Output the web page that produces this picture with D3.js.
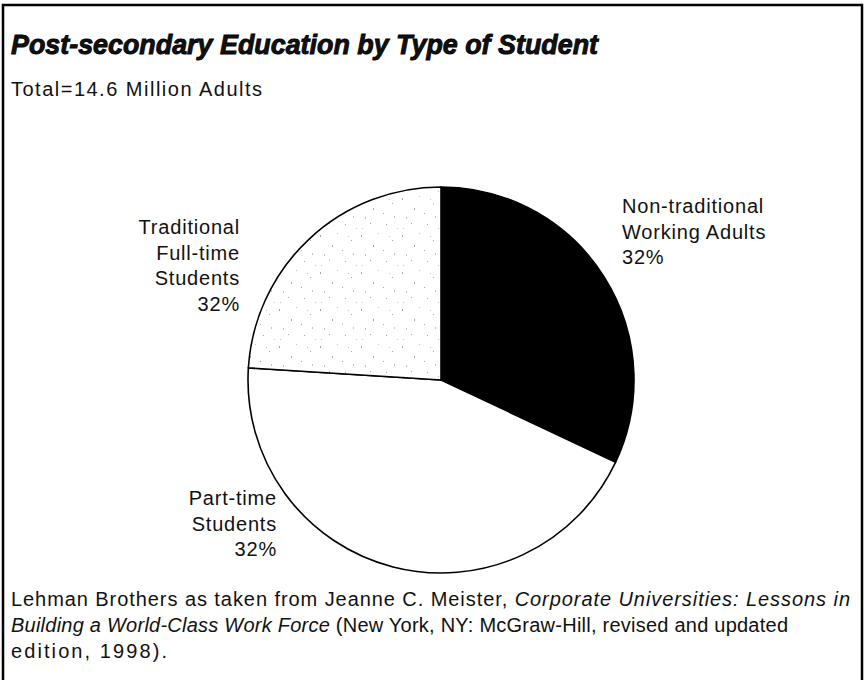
<!DOCTYPE html>
<html>
<head>
<meta charset="utf-8">
<script src="https://cdn.jsdelivr.net/npm/d3@7"></script>
<style>
  body { margin: 0; background: #fff; }
  svg { display: block; }
  text { font-family: "Liberation Sans", Arial, sans-serif; fill: #111; }
</style>
</head>
<body>
<div id="chart"></div>
<script>
// data (slice sizes estimated from the angles)
var categories = ["Non-traditional Working Adults", "Part-time Students", "Traditional Full-time Students"];
var values = [32, 44, 24];
var labelLines = [["Non-traditional", "Working Adults"], ["Part-time", "Students"], ["Traditional", "Full-time", "Students"]];
var percentLabels = ["32%", "32%", "32%"];

var width = 866, height = 680;
var center = { x: 441, y: 380 }, radius = 193;

var svg = d3.select("#chart")
    .append("svg")
    .attr("width", width)
    .attr("height", height);

// speckled fill for the light slice
var defs = svg.append("defs");
var pat = defs.append("pattern")
    .attr("id", "speckle")
    .attr("patternUnits", "userSpaceOnUse")
    .attr("width", 41)
    .attr("height", 37);
pat.append("rect").attr("width", 41).attr("height", 37).attr("fill", "#fff");
[[2, 3], [19, 1], [33, 8], [6, 22], [27, 29], [38, 33], [14, 13], [3, 33], [24, 18], [35, 21], [11, 28], [30, 4]].forEach(function (p, i) {
    pat.append("rect").attr("x", p[0]).attr("y", p[1])
        .attr("width", 1).attr("height", i % 3 == 0 ? 2 : 1)
        .attr("fill", i % 2 ? "#c4c4c4" : "#a8a8a8");
});

// frame
svg.append("rect")
    .attr("x", 3).attr("y", 5)
    .attr("width", 859).attr("height", 720)
    .attr("fill", "none")
    .attr("stroke", "#000")
    .attr("stroke-width", 2.5);

// title + subtitle
svg.append("text")
    .attr("x", 11).attr("y", 54)
    .attr("font-size", 28)
    .attr("font-weight", 900)
    .attr("font-style", "italic")
    .attr("stroke", "#000")
    .attr("stroke-width", 0.9)
    .attr("textLength", 587)
    .attr("lengthAdjust", "spacingAndGlyphs")
    .text("Post-secondary Education by Type of Student");

svg.append("text")
    .attr("x", 11).attr("y", 96)
    .attr("font-size", 20)
    .attr("textLength", 251)
    .attr("lengthAdjust", "spacing")
    .text("Total=14.6 Million Adults");

// pie
var pie = d3.pie().sort(null).value(function (d) { return d; });
var arc = d3.arc().innerRadius(0).outerRadius(radius);
var fills = ["#000", "#fff", "url(#speckle)"];

var g = svg.append("g")
    .attr("transform", "translate(" + center.x + "," + center.y + ")");

g.selectAll("path")
    .data(pie(values))
    .enter()
    .append("path")
    .attr("d", arc)
    .attr("fill", function (d, i) { return fills[i]; })
    .attr("stroke", "#000")
    .attr("stroke-width", 1.6)
    .attr("stroke-linejoin", "round");

// labels
var labelPos = [
    { x: 622, y: 213, anchor: "start" },
    { x: 277, y: 505, anchor: "end" },
    { x: 240, y: 234, anchor: "end" }
];
var lineStep = 25.7;

labelPos.forEach(function (p, i) {
    var lines = labelLines[i].concat([percentLabels[i]]);
    var t = svg.append("text")
        .attr("font-size", 20)
        .attr("letter-spacing", 0.8)
        .attr("text-anchor", p.anchor);
    lines.forEach(function (ln, j) {
        t.append("tspan")
            .attr("x", p.x)
            .attr("y", p.y + j * lineStep)
            .text(ln);
    });
});

// source note
var src = svg.append("g").attr("font-size", 20);
var l1 = src.append("text").attr("x", 11).attr("y", 606)
    .attr("textLength", 839).attr("lengthAdjust", "spacing");
l1.append("tspan").text("Lehman Brothers as taken from Jeanne C. Meister, ");
l1.append("tspan").attr("font-style", "italic").text("Corporate Universities: Lessons in");

var l2 = src.append("text").attr("x", 11).attr("y", 632)
    .attr("textLength", 777).attr("lengthAdjust", "spacing");
l2.append("tspan").attr("font-style", "italic").text("Building a World-Class Work Force");
l2.append("tspan").text(" (New York, NY: McGraw-Hill, revised and updated");

src.append("text").attr("x", 11).attr("y", 658)
    .attr("textLength", 156).attr("lengthAdjust", "spacing")
    .text("edition, 1998).");
</script>
</body>
</html>
